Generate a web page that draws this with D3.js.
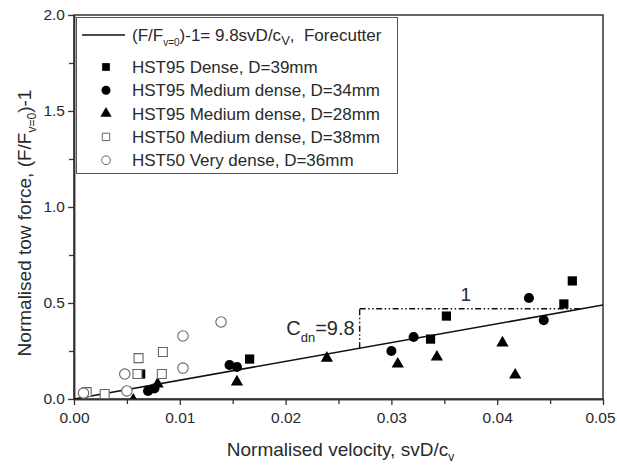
<!DOCTYPE html>
<html>
<head>
<meta charset="utf-8">
<script src="https://cdn.jsdelivr.net/npm/d3@7"></script>
<style>
  body { margin: 0; background: #fff; }
  svg { font-family: "Liberation Sans", Arial, sans-serif; }
  text { white-space: pre; }
</style>
</head>
<body>
<script>
// series
let sqFilledX = [0.0063, 0.0166, 0.0337, 0.0352, 0.0463, 0.0471];
let sqFilledY = [0.130, 0.208, 0.312, 0.432, 0.495, 0.615];

let circFilledX = [0.0070, 0.0076, 0.0147, 0.0154, 0.0300, 0.0321, 0.0430, 0.0444];
let circFilledY = [0.042, 0.055, 0.177, 0.167, 0.250, 0.323, 0.526, 0.411];

let triFilledX = [0.0056, 0.0079, 0.0154, 0.0239, 0.0306, 0.0343, 0.0405, 0.0417];
let triFilledY = [-0.005, 0.078, 0.089, 0.213, 0.182, 0.219, 0.292, 0.125];

let sqOpenX = [0.0012, 0.0029, 0.0061, 0.0060, 0.0084, 0.0083];
let sqOpenY = [0.036, 0.026, 0.213, 0.130, 0.245, 0.130];

let circOpenX = [0.0009, 0.0048, 0.0050, 0.0103, 0.0103, 0.0139];
let circOpenY = [0.031, 0.130, 0.042, 0.328, 0.161, 0.401];

let slope = 9.8;
let fitX = [0, 0.05];
let slopeX = [0.027, 0.048];

let xTicks = [0, 0.01, 0.02, 0.03, 0.04, 0.05];
let xMinor = [0.005, 0.015, 0.025, 0.035, 0.045];
let yTicks = [0, 0.5, 1.0, 1.5, 2.0];
let yMinor = [0.25, 0.75, 1.25, 1.75];

let legendNames = ["HST95 Dense, D=39mm", "HST95 Medium dense, D=34mm", "HST95 Medium dense, D=28mm",
                   "HST50 Medium dense, D=38mm", "HST50 Very dense, D=36mm"];

let w = 617, h = 467;
let pLeft = 74, pRight = 603, pTop = 15, pBottom = 399;

let svg = d3.select("body").append("svg")
  .attr("width", w)
  .attr("height", h);

let xScale = d3.scaleLinear().domain([0, 0.05]).range([pLeft, pRight]);
let yScale = d3.scaleLinear().domain([0, 2]).range([pBottom, pTop]);

let axisCol = "#333";
let txtCol = "#2a2a2a";

// frame
svg.append("rect")
  .attr("x", pLeft).attr("y", pTop)
  .attr("width", pRight - pLeft).attr("height", pBottom - pTop)
  .attr("fill", "none").attr("stroke", axisCol).attr("stroke-width", 1.5);

let xAxis = d3.axisBottom(xScale).tickValues(xTicks).tickFormat(d3.format(".2f")).tickSize(6).tickSizeOuter(0).tickPadding(7);
let yAxis = d3.axisLeft(yScale).tickValues(yTicks).tickFormat(d3.format(".1f")).tickSize(6).tickSizeOuter(0).tickPadding(3);

let gx = svg.append("g")
  .attr("transform", "translate(0," + pBottom + ")")
  .call(xAxis);
gx.append("g").call(d3.axisBottom(xScale).tickValues(xMinor).tickFormat("").tickSize(5).tickSizeOuter(0));

let gy = svg.append("g")
  .attr("transform", "translate(" + pLeft + ",0)")
  .call(yAxis);
gy.append("g").call(d3.axisLeft(yScale).tickValues(yMinor).tickFormat("").tickSize(5).tickSizeOuter(0));

svg.selectAll(".domain").attr("stroke", axisCol).attr("stroke-width", 1.5);
svg.selectAll(".tick line").attr("stroke", axisCol).attr("stroke-width", 1.3);
svg.selectAll(".tick text")
  .attr("font-family", "Liberation Sans, Arial, sans-serif")
  .attr("font-size", 15.5)
  .attr("fill", txtCol);
// last x label sits against the page edge
gx.selectAll(".tick text").filter(d => d === 0.05).attr("dx", -3);

// axis titles
let xt = svg.append("text")
  .attr("x", (pLeft + pRight) / 2 + 2)
  .attr("y", 456)
  .attr("text-anchor", "middle")
  .attr("font-size", 19)
  .attr("fill", txtCol);
xt.append("tspan").text("Normalised velocity, svD/c");
xt.append("tspan").attr("font-size", 12).attr("dy", 5).text("v");

let yt = svg.append("text")
  .attr("transform", "translate(31," + 223 + ") rotate(-90)")
  .attr("text-anchor", "middle")
  .attr("font-size", 19)
  .attr("fill", txtCol);
yt.append("tspan").text("Normalised tow force, (F/F");
yt.append("tspan").attr("font-size", 12).attr("dy", 5).text("v=0");
yt.append("tspan").attr("dy", -5).text(")-1");

// clip for markers
svg.append("clipPath").attr("id", "plotclip")
  .append("rect").attr("x", pLeft).attr("y", pTop).attr("width", pRight - pLeft).attr("height", pBottom - pTop);

let plot = svg.append("g").attr("clip-path", "url(#plotclip)");

// fitted line
plot.append("line")
  .attr("x1", xScale(fitX[0])).attr("y1", yScale(slope * fitX[0]))
  .attr("x2", xScale(fitX[1])).attr("y2", yScale(slope * fitX[1]))
  .attr("stroke", "#111").attr("stroke-width", 1.6);

// slope triangle
let dashes = "6,2.5,1.5,2.5,1.5,2.5";
plot.append("line")
  .attr("x1", xScale(slopeX[0])).attr("y1", yScale(slope * slopeX[0]))
  .attr("x2", xScale(slopeX[0])).attr("y2", yScale(slope * slopeX[1]))
  .attr("stroke", "#111").attr("stroke-width", 1.4).attr("stroke-dasharray", dashes);
plot.append("line")
  .attr("x1", xScale(slopeX[0])).attr("y1", yScale(slope * slopeX[1]))
  .attr("x2", xScale(slopeX[1])).attr("y2", yScale(slope * slopeX[1]))
  .attr("stroke", "#111").attr("stroke-width", 1.4).attr("stroke-dasharray", dashes);

let cd = svg.append("text")
  .attr("x", xScale(slopeX[0]) - 5)
  .attr("y", yScale(slope * slopeX[1]) + 26)
  .attr("text-anchor", "end")
  .attr("font-size", 20)
  .attr("fill", txtCol);
cd.append("tspan").text("C");
cd.append("tspan").attr("font-size", 13).attr("dy", 7).text("dn");
cd.append("tspan").attr("dy", -7).text("=9.8");

svg.append("text")
  .attr("x", xScale((slopeX[0] + slopeX[1]) / 2) - 5)
  .attr("y", yScale(slope * slopeX[1]) - 8)
  .attr("text-anchor", "middle")
  .attr("font-size", 19)
  .attr("fill", txtCol)
  .text("1");

// markers
function pts(xs, ys) { return xs.map((x, i) => [x, ys[i]]); }

let sym = [
  { d: pts(sqFilledX, sqFilledY), type: d3.symbolSquare, size: 85, fill: "#000", stroke: "none", lsize: 60 },
  { d: pts(circFilledX, circFilledY), type: d3.symbolCircle, size: 80, fill: "#000", stroke: "none", lsize: 64 },
  { d: pts(triFilledX, triFilledY), type: d3.symbolTriangle, size: 65, fill: "#000", stroke: "none", lsize: 55 },
  { d: pts(sqOpenX, sqOpenY), type: d3.symbolSquare, size: 80, fill: "#fff", stroke: "#666", lsize: 55 },
  { d: pts(circOpenX, circOpenY), type: d3.symbolCircle, size: 85, fill: "#fff", stroke: "#666", lsize: 60 }
];

sym.forEach(s => {
  plot.selectAll(null)
    .data(s.d)
    .enter()
    .append("path")
    .attr("d", d3.symbol().type(s.type).size(s.size))
    .attr("transform", d => "translate(" + xScale(d[0]) + "," + yScale(d[1]) + ")")
    .attr("fill", s.fill)
    .attr("stroke", s.stroke)
    .attr("stroke-width", 1.1);
});

// legend
let lg = svg.append("g");
lg.append("rect")
  .attr("x", 76.5).attr("y", 17.5).attr("width", 321).attr("height", 156)
  .attr("fill", "#fff").attr("stroke", "#555").attr("stroke-width", 1);

lg.append("line")
  .attr("x1", 82).attr("x2", 125).attr("y1", 35).attr("y2", 35)
  .attr("stroke", "#111").attr("stroke-width", 1.6);

let lt = lg.append("text").attr("x", 132).attr("y", 41).attr("font-size", 17).attr("fill", txtCol);
lt.append("tspan").text("(F/F");
lt.append("tspan").attr("font-size", 10).attr("dy", 5).text("v=0");
lt.append("tspan").attr("dy", -5).text(")-1= 9.8svD/c");
lt.append("tspan").attr("font-size", 13).attr("dy", 4).text("V");
lt.append("tspan").attr("dy", -4).text(",  Forecutter");

let rowY = d3.range(5).map(i => 67 + i * 23.3);
sym.forEach((s, i) => {
  lg.append("path")
    .attr("d", d3.symbol().type(s.type).size(s.lsize))
    .attr("transform", "translate(106," + rowY[i] + ")")
    .attr("fill", s.fill)
    .attr("stroke", s.stroke)
    .attr("stroke-width", 1);
  lg.append("text")
    .attr("x", 132).attr("y", rowY[i] + 6)
    .attr("font-size", 17)
    .attr("fill", txtCol)
    .text(legendNames[i]);
});
</script>
</body>
</html>
